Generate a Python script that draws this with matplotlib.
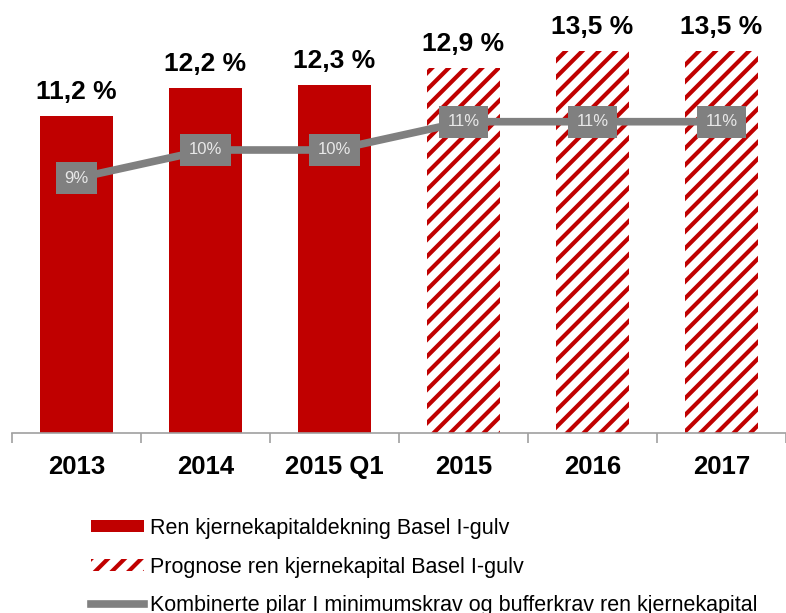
import numpy as np
import matplotlib.pyplot as plt
from matplotlib.patches import Patch
from matplotlib.lines import Line2D

plt.rcParams['font.family'] = ['Liberation Sans', 'DejaVu Sans']
plt.rcParams['hatch.linewidth'] = 3.0

categories = ['2013', '2014', '2015 Q1', '2015', '2016', '2017']
kjerne = [11.2, 12.2, 12.3, 12.9, 13.5, 13.5]
prognose = [False, False, False, True, True, True]
krav = [9.0, 10.0, 10.0, 11.0, 11.0, 11.0]

red = '#C00000'
grey = '#808080'

fig = plt.figure(figsize=(7.86, 6.13), dpi=100)
ax = fig.add_axes([12 / 786, 180 / 613, 774 / 786, 424.5 / 613])

x = np.arange(len(categories))
for xi, v, p in zip(x, kjerne, prognose):
    if p:
        ax.bar(xi, v, width=0.57, color='white', edgecolor=red, linewidth=0, hatch='//')
    else:
        ax.bar(xi, v, width=0.57, color=red, linewidth=0)
    ax.annotate(f'{v:.1f} %'.replace('.', ','), (xi, v), xytext=(0, 12),
                textcoords='offset points', ha='center', va='baseline',
                fontsize=19, fontweight='bold')

ax.plot(x, krav, color=grey, linewidth=5.5, solid_capstyle='butt', zorder=3)
for xi, v in zip(x, krav):
    ax.text(xi, v, f'{v:.0f}%', ha='center', va='center', fontsize=12,
            color='#e8e8e8', zorder=4,
            bbox=dict(boxstyle='square,pad=0.5', facecolor=grey, edgecolor='none'))

ax.set_xlim(-0.5, len(categories) - 0.5)
ax.set_ylim(0, 15)
for s in ['left', 'right', 'top']:
    ax.spines[s].set_visible(False)
ax.spines['bottom'].set_color('#a0a0a0')
ax.spines['bottom'].set_linewidth(1.2)
ax.set_yticks([])
ax.set_xticks(x)
ax.set_xticklabels(categories, fontsize=18.5, fontweight='bold')
ax.tick_params(axis='x', which='major', length=0, pad=16)
ax.set_xticks(np.arange(-0.5, len(categories), 1), minor=True)
ax.tick_params(axis='x', which='minor', length=7, width=1.2, color='#a0a0a0', direction='out')

handles = [
    Patch(facecolor=red, linewidth=0),
    Patch(facecolor='white', edgecolor=red, linewidth=0, hatch='//'),
    Line2D([0], [0], color=grey, linewidth=5.5),
]
labels = [
    'Ren kjernekapitaldekning Basel I-gulv',
    'Prognose ren kjernekapital Basel I-gulv',
    'Kombinerte pilar I minimumskrav og bufferkrav ren kjernekapital',
]
fig.legend(handles, labels, loc='upper left', bbox_to_anchor=(91 / 786, 1 - 518 / 613),
           frameon=False, fontsize=15.5, handlelength=2.45, handleheight=0.5,
           handletextpad=0.3, labelspacing=0.82, borderaxespad=0, borderpad=0)

fig.savefig('out.png', dpi=100)
